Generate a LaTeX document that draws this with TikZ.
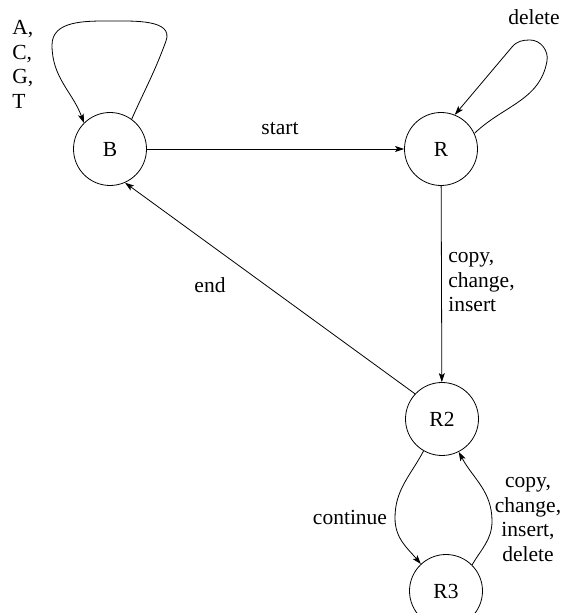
\documentclass[tikz,border=0pt]{standalone}
\usepackage{fontspec}
\setmainfont{Liberation Serif}
\usetikzlibrary{arrows.meta}
\begin{document}
\begin{tikzpicture}[x=1pt,y=1pt,
  line width=0.8pt,
  >={Stealth[length=9pt,width=6pt,inset=2pt]},
  every node/.style={font=\fontsize{21.5}{24.5}\selectfont},
  state/.style={draw,circle,minimum size=73pt,inner sep=0pt},
  lbl/.style={inner sep=0pt}]
\useasboundingbox (0,0) rectangle (567,613);
\clip (0,0) rectangle (567,613);
% states
\node[state] (B)  at (110,464) {B};
\node[state] (R)  at (441,464) {R};
\node[state] (R2) at (442,194) {R2};
\node[state] (R3) at (446,22)  {R3};
% connectors
\draw[->] (B) -- (R);
\draw[->] (R) -- (R2);
\draw[->] (R2.137) -- (B.-66);
\draw[->] (B.54) to[out=66,in=-110] (166,572) to[out=70,in=0] (110,592)
  to[out=180,in=90] (52,568) to[out=-90,in=110] (B.135);
\draw[->] (R.25) to[out=44,in=-100] (547,552) to[out=80,in=0] (530,573)
  to[out=180,in=50] (512,566) -- (R.68);
\draw[->] (R2.-120) to[out=-118,in=90] (395,95) to[out=-90,in=130] (R3.133);
\draw[->] (R3.45) to[out=60,in=-90] (492,92) to[out=90,in=-62] (R2.-63);
% labels
\node[lbl,align=left,anchor=north west] (acgt) at (12,593) {A,\\C,\\G,\\T};
\node[lbl,anchor=base] (lstart) at (280,478) {start};
\node[lbl,anchor=base] (ldel) at (534,588) {delete};
\node[lbl,anchor=base] (lend) at (210,320) {end};
\node[lbl,anchor=base] (lcont) at (350,88) {continue};
\node[lbl,align=left,anchor=north west] (lcci) at (448,361) {copy,\\change,\\insert};
\node[lbl,align=center,anchor=north] (lccid) at (528,136) {copy,\\change,\\insert,\\delete};
\end{tikzpicture}
\end{document}
